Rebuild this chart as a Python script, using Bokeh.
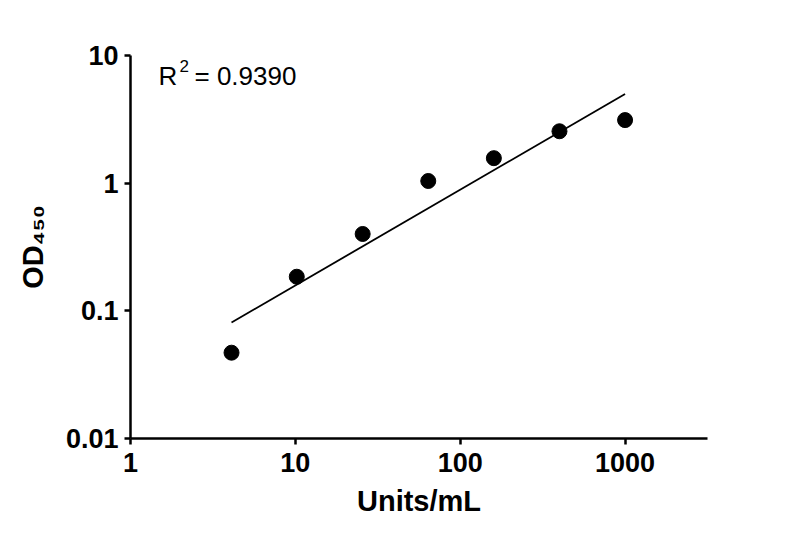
import numpy as np
from bokeh.plotting import figure
from bokeh.models import Range1d, FixedTicker, CustomJSTickFormatter, Label
from bokeh.embed import file_html
from bokeh.resources import INLINE

# datos
units = [4.1, 10.2, 25.6, 64, 160, 400, 1000]
od450 = [0.047, 0.185, 0.40, 1.04, 1.57, 2.55, 3.12]

# recta de ajuste (extremos)
fit_x = [4.1, 1000]
fit_y = [0.081, 5.0]

x_ticks = [1, 10, 100, 1000]
y_ticks = [0.01, 0.1, 1, 10]

FONT = "Liberation Sans"

p = figure(width=792, height=534, x_axis_type="log", y_axis_type="log",
           x_range=Range1d(1, 3162), y_range=Range1d(0.01, 10),
           output_backend="svg", toolbar_location=None,
           min_border_left=130, min_border_right=85,
           min_border_top=55, min_border_bottom=96)

p.outline_line_color = None
p.xgrid.visible = False
p.ygrid.visible = False
p.background_fill_color = "white"
p.border_fill_color = "white"

p.line(fit_x, fit_y, line_color="black", line_width=1.8)
p.scatter(units, od450, size=15, color="black")

for ax in (p.xaxis[0], p.yaxis[0]):
    ax.axis_line_width = 2.5
    ax.major_tick_line_width = 2.5
    ax.major_tick_out = 6
    ax.major_tick_in = 0
    ax.minor_tick_line_color = None
    ax.major_label_text_font = FONT
    ax.major_label_text_font_style = "bold"
    ax.major_label_text_font_size = "27px"
    ax.major_label_text_color = "black"
    ax.axis_line_color = "black"
    ax.major_tick_line_color = "black"
    ax.formatter = CustomJSTickFormatter(code="return String(tick)")
    ax.axis_label_text_font = FONT
    ax.axis_label_text_font_style = "bold"
    ax.axis_label_text_font_size = "29px"
    ax.axis_label_text_color = "black"

p.xaxis.ticker = FixedTicker(ticks=x_ticks)
p.yaxis.ticker = FixedTicker(ticks=y_ticks)
p.xaxis.major_label_standoff = 8
p.yaxis.major_label_standoff = 6

p.xaxis.axis_label = "Units/mL"
p.xaxis.axis_label_standoff = 10

# eje y: OD con subíndice 450
p.yaxis.axis_label = "OD\u2084\u2085\u2080"
p.yaxis.axis_label_standoff = 14

# R² = 0.9390
p.add_layout(Label(x=28, y=363, x_units="screen", y_units="screen", text="R",
                   text_align="left", text_baseline="alphabetic",
                   text_font=FONT, text_font_size="26px", text_color="black"))
p.add_layout(Label(x=49, y=373, x_units="screen", y_units="screen", text="2",
                   text_align="left", text_baseline="alphabetic",
                   text_font=FONT, text_font_size="17px", text_color="black"))
p.add_layout(Label(x=64, y=363, x_units="screen", y_units="screen", text="=  0.9390",
                   text_align="left", text_baseline="alphabetic",
                   text_font=FONT, text_font_size="26px", text_color="black"))

open("out.html", "w").write(file_html(p, INLINE))
